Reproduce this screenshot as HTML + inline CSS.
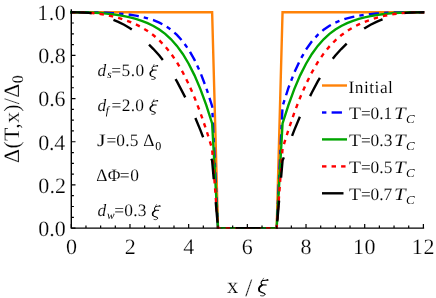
<!DOCTYPE html>
<html><head><meta charset="utf-8"><title>plot</title>
<style>
html,body{margin:0;padding:0;background:#fff;width:436px;height:298px;overflow:hidden;}
body{text-rendering:geometricPrecision;width:436px;height:298px;position:relative;overflow:hidden;font-family:"Liberation Serif",serif;color:#000;}
.t{position:absolute;white-space:nowrap;line-height:0;height:0;}
.yl{-webkit-text-stroke:0.2px #fff;position:absolute;left:12.1px;top:119.2px;font-size:22px;letter-spacing:0.3px;line-height:0;height:0;white-space:nowrap;transform:translate(-50%,0) rotate(-90deg);transform-origin:50% 0;}
.yl .s0{-webkit-text-stroke:0.1px #fff;font-size:16px;position:relative;top:4px;}
#tx{position:absolute;left:0;top:0;width:436px;height:298px;overflow:hidden;will-change:transform;}
</style></head><body>
<svg width="436" height="298" viewBox="0 0 436 298" style="position:absolute;left:0;top:0">
<defs><clipPath id="c"><rect x="69.80" y="10.70" width="355.08" height="218.15"/></clipPath>
<g id="xi" fill="none" stroke="#000" stroke-linecap="round" stroke-linejoin="round"><path d="M127,42 C121,52 111,62 114,70" stroke-width="8"/><path d="M114,73 C132,67 158,68 176,64" stroke-width="13"/><path d="M172,62 L178,66" stroke-width="17"/><path d="M116,72 C98,82 88,102 102,124" stroke-width="14"/><path d="M102,128 L158,130" stroke-width="14"/><path d="M106,134 C78,150 64,180 74,204" stroke-width="23"/><path d="M72,206 C86,232 138,226 143,250" stroke-width="15"/><path d="M143,250 C148,267 120,278 90,269" stroke-width="10"/></g>
</defs>
<g fill="none" stroke-width="2.4" stroke-linejoin="miter" stroke-miterlimit="3" clip-path="url(#c)">
<path d="M70.10,12.20 L71.30,12.20 L77.17,12.20 L83.04,12.20 L88.90,12.20 L94.77,12.20 L100.64,12.20 L106.51,12.20 L112.38,12.20 L118.24,12.20 L124.11,12.20 L129.98,12.20 L135.85,12.20 L141.72,12.20 L147.58,12.20 L153.45,12.20 L159.32,12.20 L165.19,12.20 L171.06,12.20 L176.92,12.20 L182.79,12.20 L188.66,12.20 L194.53,12.20 L200.40,12.20 L206.26,12.20 L212.13,12.20 L218.00,228.10 L276.68,228.10 L282.55,12.20 L288.42,12.20 L294.28,12.20 L300.15,12.20 L306.02,12.20 L311.89,12.20 L317.76,12.20 L323.62,12.20 L329.49,12.20 L335.36,12.20 L341.23,12.20 L347.10,12.20 L352.96,12.20 L358.83,12.20 L364.70,12.20 L370.57,12.20 L376.44,12.20 L382.30,12.20 L388.17,12.20 L394.04,12.20 L399.91,12.20 L405.78,12.20 L411.64,12.20 L417.51,12.20 L423.38,12.20 L424.28,12.20" stroke="#ff8208"/>
<path d="M70.10,12.20 L71.30,12.20 L77.17,12.21 L83.04,12.23 L88.90,12.29 L94.77,12.40 L100.64,12.56 L106.51,12.80 L112.38,13.12 L118.24,13.54 L124.11,14.09 L129.98,14.79 L135.85,15.68 L141.72,16.82 L147.58,18.28 L153.45,20.16 L159.32,22.58 L165.19,25.70 L171.06,29.72 L176.92,34.85 L182.79,41.37 L188.66,49.61 L194.53,59.89 L200.40,72.56 L206.26,87.93 L212.13,106.23 L218.00,228.10 L247.34,228.10" stroke="#0000ff" stroke-dasharray="4.4 5.2 10.3 5.1" stroke-dashoffset="1.00"/>
<path d="M247.34,228.10 L276.68,228.10 L282.55,106.23 L288.42,87.93 L294.28,72.56 L300.15,59.89 L306.02,49.61 L311.89,41.37 L317.76,34.85 L323.62,29.72 L329.49,25.70 L335.36,22.58 L341.23,20.16 L347.10,18.28 L352.96,16.82 L358.83,15.68 L364.70,14.79 L370.57,14.09 L376.44,13.54 L382.30,13.12 L388.17,12.80 L394.04,12.56 L399.91,12.40 L405.78,12.29 L411.64,12.23 L417.51,12.21 L423.38,12.20 L424.28,12.20" stroke="#0000ff" stroke-dasharray="4.4 5.2 10.3 5.1" stroke-dashoffset="21.71"/>
<path d="M70.10,12.20 L71.30,12.20 L77.17,12.22 L83.04,12.29 L88.90,12.44 L94.77,12.69 L100.64,13.06 L106.51,13.57 L112.38,14.23 L118.24,15.07 L124.11,16.10 L129.98,17.35 L135.85,18.89 L141.72,20.77 L147.58,23.09 L153.45,25.95 L159.32,29.49 L165.19,33.86 L171.06,39.26 L176.92,45.88 L182.79,53.95 L188.66,63.71 L194.53,75.37 L200.40,89.13 L206.26,105.14 L212.13,123.44 L218.00,228.10 L276.68,228.10 L282.55,123.44 L288.42,105.14 L294.28,89.13 L300.15,75.37 L306.02,63.71 L311.89,53.95 L317.76,45.88 L323.62,39.26 L329.49,33.86 L335.36,29.49 L341.23,25.95 L347.10,23.09 L352.96,20.77 L358.83,18.89 L364.70,17.35 L370.57,16.10 L376.44,15.07 L382.30,14.23 L388.17,13.57 L394.04,13.06 L399.91,12.69 L405.78,12.44 L411.64,12.29 L417.51,12.22 L423.38,12.20 L424.28,12.20" stroke="#00a500"/>
<path d="M70.10,12.20 L71.30,12.20 L77.17,12.24 L83.04,12.41 L88.90,12.73 L94.77,13.27 L100.64,14.03 L106.51,15.05 L112.38,16.32 L118.24,17.87 L124.11,19.70 L129.98,21.86 L135.85,24.40 L141.72,27.40 L147.58,30.97 L153.45,35.23 L159.32,40.33 L165.19,46.42 L171.06,53.67 L176.92,62.24 L182.79,72.31 L188.66,84.03 L194.53,97.50 L200.40,112.79 L206.26,129.88 L212.13,148.69 L218.00,228.10 L247.34,228.10" stroke="#ff0000" stroke-dasharray="4.4 5.1" stroke-dashoffset="-1.00"/>
<path d="M247.34,228.10 L276.68,228.10 L282.55,148.69 L288.42,129.88 L294.28,112.79 L300.15,97.50 L306.02,84.03 L311.89,72.31 L317.76,62.24 L323.62,53.67 L329.49,46.42 L335.36,40.33 L341.23,35.23 L347.10,30.97 L352.96,27.40 L358.83,24.40 L364.70,21.86 L370.57,19.70 L376.44,17.87 L382.30,16.32 L388.17,15.05 L394.04,14.03 L399.91,13.27 L405.78,12.73 L411.64,12.41 L417.51,12.24 L423.38,12.20 L424.28,12.20" stroke="#ff0000" stroke-dasharray="4.4 5.1" stroke-dashoffset="0.28"/>
<path d="M70.10,12.26 L71.30,12.26 L77.17,12.35 L83.04,12.57 L88.90,12.91 L94.77,13.52 L100.64,15.03 L106.51,17.14 L112.38,19.46 L118.24,21.88 L124.11,24.76 L129.98,28.15 L135.85,32.30 L141.72,37.48 L147.58,43.15 L153.45,49.04 L159.32,55.57 L165.19,62.99 L171.06,71.67 L176.92,81.44 L182.79,92.58 L188.66,104.13 L194.53,116.05 L200.40,130.12 L206.26,145.37 L212.13,160.67 L218.00,228.10 L247.34,228.10" stroke="#000000" stroke-dasharray="20.7 23" stroke-dashoffset="-0.80"/>
<path d="M247.34,228.10 L276.68,228.10 L282.55,160.67 L288.42,145.37 L294.28,130.12 L300.15,116.05 L306.02,104.13 L311.89,92.58 L317.76,81.44 L323.62,71.67 L329.49,62.99 L335.36,55.57 L341.23,49.04 L347.10,43.15 L352.96,37.48 L358.83,32.30 L364.70,28.15 L370.57,24.76 L376.44,21.88 L382.30,19.46 L388.17,17.14 L394.04,15.03 L399.91,13.52 L405.78,12.91 L411.64,12.57 L417.51,12.35 L423.38,12.26 L424.28,12.26" stroke="#000000" stroke-dasharray="20.7 23" stroke-dashoffset="7.52"/>
</g>
<g stroke="#000" fill="none">
<path d="M71.30,9.20 V228.10 H219.00 M275.68,228.10 H424.13" stroke-width="1.4"/>
<path d="M219.00,228.10 H275.68" stroke-width="1.5" stroke-opacity="0.5"/>
<path d="M71.30,228.10 v-4.20 M85.97,228.10 v-2.60 M100.64,228.10 v-2.60 M115.31,228.10 v-2.60 M129.98,228.10 v-4.20 M144.65,228.10 v-2.60 M159.32,228.10 v-2.60 M173.99,228.10 v-2.60 M188.66,228.10 v-4.20 M203.33,228.10 v-2.60 M218.00,228.10 v-2.60 M232.67,228.10 v-2.60 M247.34,228.10 v-4.20 M262.01,228.10 v-2.60 M276.68,228.10 v-2.60 M291.35,228.10 v-2.60 M306.02,228.10 v-4.20 M320.69,228.10 v-2.60 M335.36,228.10 v-2.60 M350.03,228.10 v-2.60 M364.70,228.10 v-4.20 M379.37,228.10 v-2.60 M394.04,228.10 v-2.60 M408.71,228.10 v-2.60 M423.38,228.10 v-4.20 M71.30,228.10 h4.20 M71.30,217.31 h2.60 M71.30,206.51 h2.60 M71.30,195.71 h2.60 M71.30,184.92 h4.20 M71.30,174.12 h2.60 M71.30,163.33 h2.60 M71.30,152.53 h2.60 M71.30,141.74 h4.20 M71.30,130.94 h2.60 M71.30,120.15 h2.60 M71.30,109.35 h2.60 M71.30,98.56 h4.20 M71.30,87.76 h2.60 M71.30,76.97 h2.60 M71.30,66.17 h2.60 M71.30,55.38 h4.20 M71.30,44.58 h2.60 M71.30,33.79 h2.60 M71.30,22.99 h2.60 M71.30,12.20 h4.20" stroke-width="1.2"/>
</g>
<g fill="none" stroke-width="2.4">
<path d="M322.00,85.50 H347.00" stroke="#ff8208"/>
<path d="M322.00,112.50 H326.40" stroke="#0000ff"/>
<path d="M331.60,112.50 H341.95" stroke="#0000ff"/>
<path d="M322.00,139.40 H347.00" stroke="#00a500"/>
<path d="M322.00,166.40 H326.45" stroke="#ff0000"/>
<path d="M331.55,166.40 H336.00" stroke="#ff0000"/>
<path d="M341.10,166.40 H345.55" stroke="#ff0000"/>
<path d="M322.00,193.30 H343.50" stroke="#000000"/>
</g>
<use href="#xi" transform="translate(258.00,277.90) scale(0.0820,0.0771) translate(-58,-38)"/>
<use href="#xi" transform="translate(149.40,64.10) scale(0.0687,0.0658) translate(-58,-38)"/>
<use href="#xi" transform="translate(149.40,99.00) scale(0.0687,0.0658) translate(-58,-38)"/>
<use href="#xi" transform="translate(151.80,204.30) scale(0.0687,0.0658) translate(-58,-38)"/>
</svg>
<div id="tx">
<div class="t" style="left:38.36px;top:228.87px;font-size:22.00px;letter-spacing:-0.11px;-webkit-text-stroke:0.20px #fff;">0.0</div>
<div class="t" style="left:38.36px;top:185.69px;font-size:22.00px;letter-spacing:0.08px;-webkit-text-stroke:0.20px #fff;">0.2</div>
<div class="t" style="left:38.36px;top:142.51px;font-size:22.00px;letter-spacing:-0.36px;-webkit-text-stroke:0.20px #fff;">0.4</div>
<div class="t" style="left:38.36px;top:99.33px;font-size:22.00px;letter-spacing:-0.20px;-webkit-text-stroke:0.20px #fff;">0.6</div>
<div class="t" style="left:38.36px;top:56.15px;font-size:22.00px;letter-spacing:-0.11px;-webkit-text-stroke:0.20px #fff;">0.8</div>
<div class="t" style="left:37.27px;top:12.97px;font-size:22.00px;letter-spacing:0.44px;-webkit-text-stroke:0.20px #fff;">1.0</div>
<div class="t" style="left:65.90px;top:246.97px;font-size:22.00px;-webkit-text-stroke:0.20px #fff;">0</div>
<div class="t" style="left:124.70px;top:246.97px;font-size:22.00px;-webkit-text-stroke:0.20px #fff;">2</div>
<div class="t" style="left:183.22px;top:246.97px;font-size:22.00px;-webkit-text-stroke:0.20px #fff;">4</div>
<div class="t" style="left:241.79px;top:246.97px;font-size:22.00px;-webkit-text-stroke:0.20px #fff;">6</div>
<div class="t" style="left:300.62px;top:246.97px;font-size:22.00px;-webkit-text-stroke:0.20px #fff;">8</div>
<div class="t" style="left:352.95px;top:246.97px;font-size:22.00px;letter-spacing:0.60px;-webkit-text-stroke:0.20px #fff;">10</div>
<div class="t" style="left:411.82px;top:246.97px;font-size:22.00px;letter-spacing:0.60px;-webkit-text-stroke:0.20px #fff;">12</div>
<div class="t" style="left:227.00px;top:286.21px;font-size:22.50px;-webkit-text-stroke:0.20px #fff;">x</div>
<div class="t" style="left:245.20px;top:288.69px;font-size:25.20px;-webkit-text-stroke:0.20px #fff;">/</div>
<div class="t" style="left:97.47px;top:70.33px;font-size:17.40px;font-style:italic;-webkit-text-stroke:0.10px #fff;">d</div>
<div class="t" style="left:107.16px;top:75.09px;font-size:11.30px;font-style:italic;-webkit-text-stroke:0.00px #fff;">s</div>
<div class="t" style="left:111.13px;top:70.33px;font-size:17.40px;-webkit-text-stroke:0.10px #fff;">=</div>
<div class="t" style="left:121.59px;top:70.33px;font-size:17.40px;letter-spacing:0.41px;-webkit-text-stroke:0.10px #fff;">5.0</div>
<div class="t" style="left:97.47px;top:105.13px;font-size:17.40px;font-style:italic;-webkit-text-stroke:0.10px #fff;">d</div>
<div class="t" style="left:105.87px;top:110.99px;font-size:11.30px;font-style:italic;-webkit-text-stroke:0.00px #fff;">f</div>
<div class="t" style="left:111.53px;top:105.13px;font-size:17.40px;-webkit-text-stroke:0.10px #fff;">=</div>
<div class="t" style="left:121.74px;top:105.13px;font-size:17.40px;letter-spacing:0.29px;-webkit-text-stroke:0.10px #fff;">2.0</div>
<div class="t" style="left:96.83px;top:140.13px;font-size:17.40px;transform:scaleX(1.280);transform-origin:0 0;-webkit-text-stroke:0.10px #fff;">J</div>
<div class="t" style="left:106.43px;top:140.13px;font-size:17.40px;-webkit-text-stroke:0.10px #fff;">=</div>
<div class="t" style="left:116.34px;top:140.13px;font-size:17.40px;letter-spacing:0.25px;-webkit-text-stroke:0.10px #fff;">0.5</div>
<div class="t" style="left:143.34px;top:140.13px;font-size:17.40px;-webkit-text-stroke:0.10px #fff;">Δ</div>
<div class="t" style="left:155.24px;top:146.35px;font-size:12.00px;-webkit-text-stroke:0.00px #fff;">0</div>
<div class="t" style="left:96.24px;top:175.13px;font-size:17.40px;-webkit-text-stroke:0.10px #fff;">Δ</div>
<div class="t" style="left:107.67px;top:175.13px;font-size:17.40px;-webkit-text-stroke:0.10px #fff;">Φ</div>
<div class="t" style="left:119.73px;top:175.13px;font-size:17.40px;-webkit-text-stroke:0.10px #fff;">=</div>
<div class="t" style="left:130.24px;top:175.13px;font-size:17.40px;-webkit-text-stroke:0.10px #fff;">0</div>
<div class="t" style="left:97.47px;top:210.33px;font-size:17.40px;font-style:italic;-webkit-text-stroke:0.10px #fff;">d</div>
<div class="t" style="left:107.03px;top:216.19px;font-size:11.30px;font-style:italic;-webkit-text-stroke:0.00px #fff;">w</div>
<div class="t" style="left:114.33px;top:210.33px;font-size:17.40px;-webkit-text-stroke:0.10px #fff;">=</div>
<div class="t" style="left:124.34px;top:210.33px;font-size:17.40px;letter-spacing:0.25px;-webkit-text-stroke:0.10px #fff;">0.3</div>
<div class="t" style="left:348.57px;top:86.83px;font-size:17.40px;letter-spacing:0.47px;-webkit-text-stroke:0.10px #fff;">Initial</div>
<div class="t" style="left:348.94px;top:113.03px;font-size:17.40px;transform:scaleX(1.130);transform-origin:0 0;-webkit-text-stroke:0.10px #fff;">T</div>
<div class="t" style="left:361.03px;top:113.03px;font-size:17.40px;-webkit-text-stroke:0.10px #fff;">=</div>
<div class="t" style="left:370.54px;top:113.03px;font-size:17.40px;letter-spacing:-0.07px;-webkit-text-stroke:0.10px #fff;">0.1</div>
<div class="t" style="left:393.53px;top:113.03px;font-size:17.40px;font-style:italic;transform:scaleX(1.200);transform-origin:0 0;-webkit-text-stroke:0.10px #fff;">T</div>
<div class="t" style="left:406.48px;top:119.05px;font-size:12.00px;font-style:italic;transform:scaleX(1.080);transform-origin:0 0;-webkit-text-stroke:0.00px #fff;">C</div>
<div class="t" style="left:348.94px;top:140.43px;font-size:17.40px;transform:scaleX(1.130);transform-origin:0 0;-webkit-text-stroke:0.10px #fff;">T</div>
<div class="t" style="left:361.03px;top:140.43px;font-size:17.40px;-webkit-text-stroke:0.10px #fff;">=</div>
<div class="t" style="left:370.54px;top:140.43px;font-size:17.40px;letter-spacing:0.10px;-webkit-text-stroke:0.10px #fff;">0.3</div>
<div class="t" style="left:393.53px;top:140.43px;font-size:17.40px;font-style:italic;transform:scaleX(1.200);transform-origin:0 0;-webkit-text-stroke:0.10px #fff;">T</div>
<div class="t" style="left:406.48px;top:146.45px;font-size:12.00px;font-style:italic;transform:scaleX(1.080);transform-origin:0 0;-webkit-text-stroke:0.00px #fff;">C</div>
<div class="t" style="left:348.94px;top:167.23px;font-size:17.40px;transform:scaleX(1.130);transform-origin:0 0;-webkit-text-stroke:0.10px #fff;">T</div>
<div class="t" style="left:361.03px;top:167.23px;font-size:17.40px;-webkit-text-stroke:0.10px #fff;">=</div>
<div class="t" style="left:370.54px;top:167.23px;font-size:17.40px;letter-spacing:0.10px;-webkit-text-stroke:0.10px #fff;">0.5</div>
<div class="t" style="left:393.53px;top:167.23px;font-size:17.40px;font-style:italic;transform:scaleX(1.200);transform-origin:0 0;-webkit-text-stroke:0.10px #fff;">T</div>
<div class="t" style="left:406.48px;top:173.25px;font-size:12.00px;font-style:italic;transform:scaleX(1.080);transform-origin:0 0;-webkit-text-stroke:0.00px #fff;">C</div>
<div class="t" style="left:348.94px;top:194.03px;font-size:17.40px;transform:scaleX(1.130);transform-origin:0 0;-webkit-text-stroke:0.10px #fff;">T</div>
<div class="t" style="left:361.03px;top:194.03px;font-size:17.40px;-webkit-text-stroke:0.10px #fff;">=</div>
<div class="t" style="left:370.54px;top:194.03px;font-size:17.40px;letter-spacing:0.01px;-webkit-text-stroke:0.10px #fff;">0.7</div>
<div class="t" style="left:393.53px;top:194.03px;font-size:17.40px;font-style:italic;transform:scaleX(1.200);transform-origin:0 0;-webkit-text-stroke:0.10px #fff;">T</div>
<div class="t" style="left:406.48px;top:200.05px;font-size:12.00px;font-style:italic;transform:scaleX(1.080);transform-origin:0 0;-webkit-text-stroke:0.00px #fff;">C</div>
<div class="yl">Δ(T,x)/Δ<span class="s0">0</span></div>
</div>
</body></html>
